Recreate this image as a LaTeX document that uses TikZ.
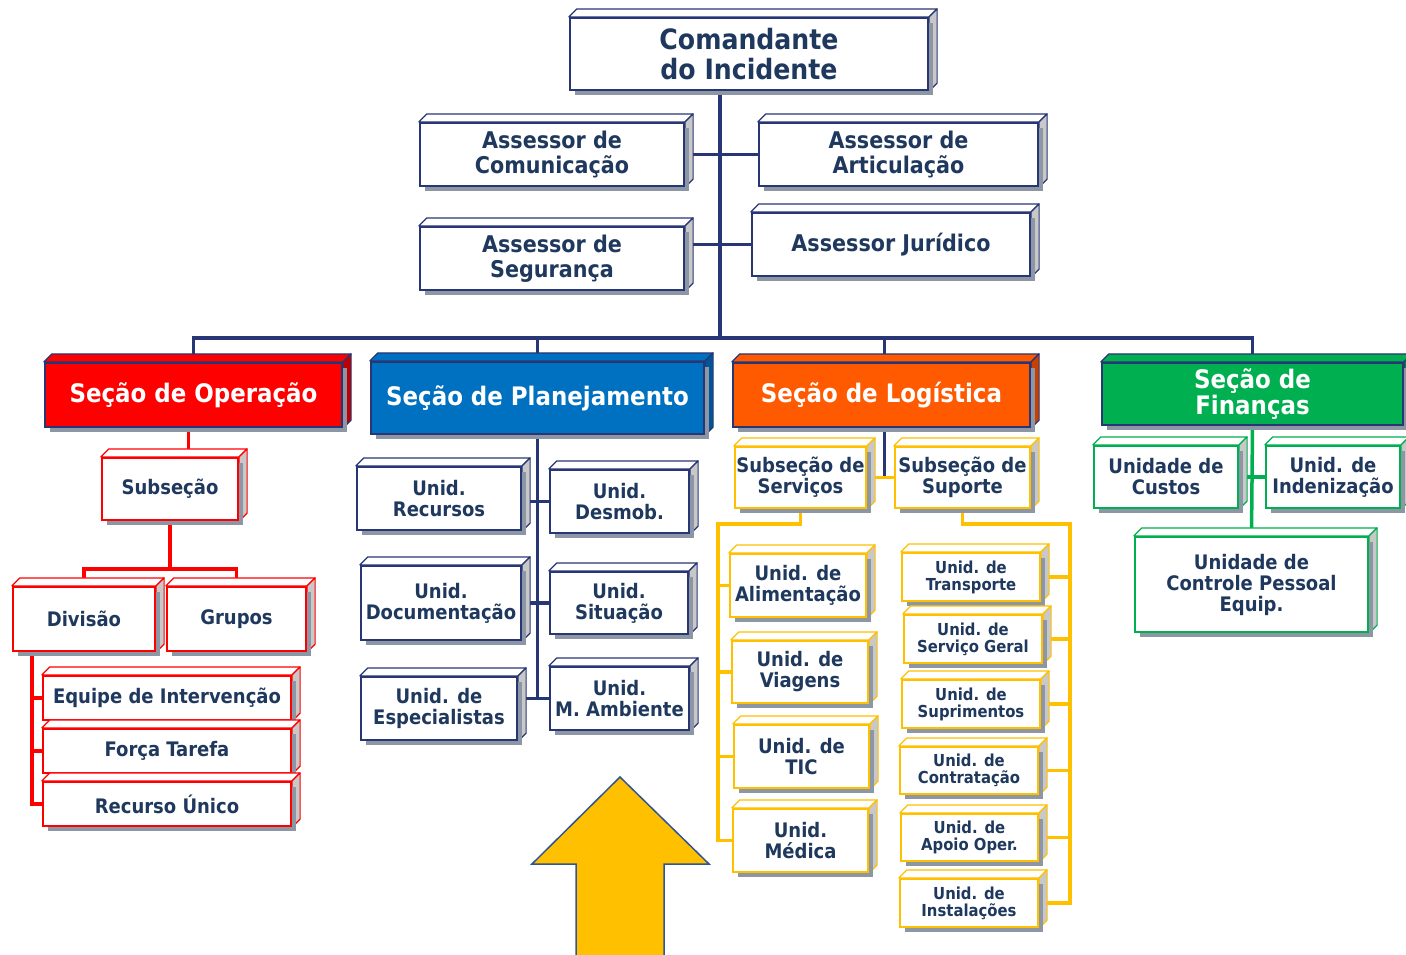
\documentclass[tikz,border=0pt]{standalone}
\usepackage{fontspec}
\setmainfont{DejaVu Sans Condensed}
\usetikzlibrary{shadows}
\definecolor{txt}{RGB}{31,56,93}
\definecolor{navy}{RGB}{41,54,117}
\definecolor{sidegray}{RGB}{200,200,200}
\definecolor{shade}{RGB}{140,150,165}
\definecolor{opred}{RGB}{255,0,0}
\definecolor{opside}{RGB}{190,0,0}
\definecolor{planblue}{RGB}{0,112,192}
\definecolor{planside}{RGB}{0,85,150}
\definecolor{logorange}{RGB}{255,90,0}
\definecolor{logside}{RGB}{200,65,0}
\definecolor{fingreen}{RGB}{0,176,80}
\definecolor{finside}{RGB}{0,130,60}
\definecolor{yel}{RGB}{255,192,0}
\definecolor{arrowedge}{RGB}{47,85,151}
\pgfdeclarelayer{bg}
\pgfsetlayers{bg,main}
\tikzset{
    every node/.style={align=center,inner sep=0pt,},
    wh/.style 2 args={minimum width=#1pt,minimum height=#2pt,},
    faces/.style n args={3}{append after command={\pgfextra{
        \draw[draw=#1,fill=#2,line width=1.2pt,line join=round] (\tikzlastnode.north west) -- ++(8,-8) -- ([shift={(8,-8)}]\tikzlastnode.north east) -- (\tikzlastnode.north east) -- cycle;
        \draw[draw=#1,fill=#3,line width=1.2pt,line join=round] (\tikzlastnode.north east) -- ++(8,-8) -- ([shift={(8,-8)}]\tikzlastnode.south east) -- (\tikzlastnode.south east) -- cycle;
    }}},
    unit/.style={draw=#1,fill=white,text=txt,line width=2.2pt,
        drop shadow={shadow xshift=5pt,shadow yshift=-5pt,fill=shade,opacity=1},
        faces={#1}{white}{sidegray},},
    section/.style 2 args={draw=navy,fill=#1,text=white,line width=2.2pt,
        drop shadow={shadow xshift=5pt,shadow yshift=-5pt,fill=shade,opacity=1},
        faces={navy}{#1}{#2},},
    fA/.style={font=\fontsize{28}{30}\selectfont\bfseries},
    fB/.style={font=\fontsize{23}{25}\selectfont\bfseries},
    fC/.style={font=\fontsize{25.5}{26}\selectfont\bfseries},
    fD/.style={font=\fontsize{20}{21}\selectfont\bfseries},
    fE/.style={font=\fontsize{16.5}{17}\selectfont\bfseries},
    navyline/.style={draw=navy,line width=3.5pt},
    redline/.style={draw=opred,line width=3.5pt},
    yelline/.style={draw=yel,line width=3.5pt},
    grnline/.style={draw=fingreen,line width=3.5pt},
    bigarrow/.style={fill=yel,draw=arrowedge,line width=1.5pt,line join=miter},
}
\begin{document}
\begin{tikzpicture}[x=1pt,y=-1pt]
    \useasboundingbox (0,0) rectangle (1406,954);
    \clip (0,0) rectangle (1406,954);

    % command staff
    \node[unit=navy,fA,wh={358}{72}] (cmd) at (749,54) {Comandante\\do Incidente};
    \node[unit=navy,fB,wh={264}{63}] (com) at (552,154.5) {Assessor de\\Comunicação};
    \node[unit=navy,fB,wh={279}{63}] (art) at (898.5,154.5) {Assessor de\\Articulação};
    \node[unit=navy,fB,wh={264}{63}] (seg) at (552,258.5) {Assessor de\\Segurança};
    \node[unit=navy,fB,wh={278}{63}] (jur) at (891,244.5) {Assessor Jurídico};
    \coordinate (bus) at (720,338);

    % sections
    \node[section={opred}{opside},fC,wh={297}{64}] (op) at (193.5,395) {Seção de Operação};
    \node[section={planblue}{planside},fC,wh={333}{72}] (plan) at (537.5,398) {Seção de Planejamento};
    \node[section={logorange}{logside},fC,wh={297}{64}] (log) at (881.5,395) {Seção de Logística};
    \node[section={fingreen}{finside},fC,wh={301}{62}] (fin) at (1252.5,394) {Seção de\\Finanças};

    % operacao
    \node[unit=opred,fD,wh={136}{62}] (sub) at (170,489) {Subseção};
    \node[unit=opred,fD,wh={142}{64}] (div) at (84,619) {Divisão};
    \node[unit=opred,fD,wh={139}{64}] (grp) at (236.5,619) {Grupos};
    \node[unit=opred,fD,wh={248}{44}] (eqp) at (167,698) {Equipe de Intervenção};
    \node[unit=opred,fD,wh={248}{44}] (frc) at (167,751) {Força Tarefa};
    \node[unit=opred,fD,wh={248}{44}] (rcu) at (167,804) {Recurso Único};

    % planejamento
    \node[unit=navy,fD,wh={164}{63}] (rcs) at (439,498.5) {Unid.\\Recursos};
    \node[unit=navy,fD,wh={139}{63}] (dsm) at (619.5,501.5) {Unid.\\Desmob.};
    \node[unit=navy,fD,wh={160}{74}] (doc) at (441,603) {Unid.\\Documentação};
    \node[unit=navy,fD,wh={138}{62}] (sit) at (619,603) {Unid.\\Situação};
    \node[unit=navy,fD,wh={156}{63}] (esp) at (439,708.5) {Unid. de\\Especialistas};
    \node[unit=navy,fD,wh={139}{63}] (amb) at (619.5,698.5) {Unid.\\M. Ambiente};

    % logistica
    \node[unit=yel,fD,wh={131}{61}] (sv) at (800.5,477.5) {Subseção de\\Serviços};
    \node[unit=yel,fD,wh={135}{61}] (sp) at (962.5,477.5) {Subseção de\\Suporte};
    \node[unit=yel,fD,wh={136}{63}] (ali) at (798,585.5) {Unid. de\\Alimentação};
    \node[unit=yel,fD,wh={136}{62}] (via) at (800,672) {Unid. de\\Viagens};
    \node[unit=yel,fD,wh={135}{63}] (tic) at (801.5,756.5) {Unid. de\\TIC};
    \node[unit=yel,fD,wh={135}{63}] (med) at (800.5,840.5) {Unid.\\Médica};
    \node[unit=yel,fE,wh={138}{48}] (tra) at (971,577) {Unid. de\\Transporte};
    \node[unit=yel,fE,wh={138}{48}] (sger) at (973,639) {Unid. de\\Serviço Geral};
    \node[unit=yel,fE,wh={138}{48}] (supr) at (971,704) {Unid. de\\Suprimentos};
    \node[unit=yel,fE,wh={138}{47}] (ctr) at (969,770.5) {Unid. de\\Contratação};
    \node[unit=yel,fE,wh={137}{47}] (apo) at (969.5,837.5) {Unid. de\\Apoio Oper.};
    \node[unit=yel,fE,wh={138}{48}] (ins) at (969,903) {Unid. de\\Instalações};
    \coordinate (svl) at (718,524);
    \coordinate (spr) at (1070,524);

    % financas
    \node[unit=fingreen,fD,wh={144}{62}] (cus) at (1166,477) {Unidade de\\Custos};
    \node[unit=fingreen,fD,wh={134}{62}] (ind) at (1333,477) {Unid. de\\Indenização};
    \node[unit=fingreen,fD,wh={233}{95}] (ctl) at (1251.5,584.5) {Unidade de\\Controle Pessoal\\Equip.};

    \begin{pgfonlayer}{bg}
        \draw[navyline] (bus |- cmd.south) -- (bus);
        \draw[navyline] (com.east) -- (art.west);
        \draw[navyline] (seg.east |- jur.west) -- (jur.west);
        \draw[navyline] (op.north) -- (op.north |- bus) -- (fin.north |- bus) -- (fin.north);
        \draw[navyline] (plan.north) -- (plan.north |- bus);
        \draw[navyline] ([xshift=3pt]log.north) -- ([xshift=3pt]log.north |- bus);

        \draw[redline] ([xshift=-5pt]op.south) -- ([xshift=-5pt]op.south |- sub.north);
        \draw[redline] (sub.south) -- ++(0,48) coordinate (j1) -| (div.north);
        \draw[redline] (j1) -| (grp.north);
        \draw[redline] (div.south west) ++(20,0) coordinate (j2) |- (rcu.west);
        \foreach \u in {eqp,frc}
            \draw[redline] (j2 |- \u.west) -- (\u.west);

        \draw[navyline] (plan.south) -- (plan.south |- amb.west);
        \foreach \a/\b in {rcs/dsm,doc/sit,esp/amb}
            \draw[navyline] (\a.east |- \b.west) -- (\b.west);

        \draw[navyline] ([xshift=3pt]log.south) -- ([xshift=3pt]log.south |- sv.east);
        \draw[yelline] (sv.east) -- (sp.west);
        \draw[yelline] (sv.south) |- (svl) -- (svl |- med.west) -- (med.west);
        \foreach \u in {ali,via,tic}
            \draw[yelline] (svl |- \u.west) -- (\u.west);
        \draw[yelline] (sp.south) |- (spr) -- (spr |- ins.east) -- (ins.east);
        \foreach \u in {tra,sger,supr,ctr,apo}
            \draw[yelline] (spr |- \u.east) -- (\u.east);

        \draw[grnline] (fin.south) -- (ctl.north);
        \draw[grnline] (cus.east) -- (ind.west);
    \end{pgfonlayer}

    % arrow
    \draw[bigarrow] (620,777) -- (709,864) -- (664,864) -- (664,960) -- (576,960) -- (576,864) -- (532,864) -- cycle;
\end{tikzpicture}
\end{document}
